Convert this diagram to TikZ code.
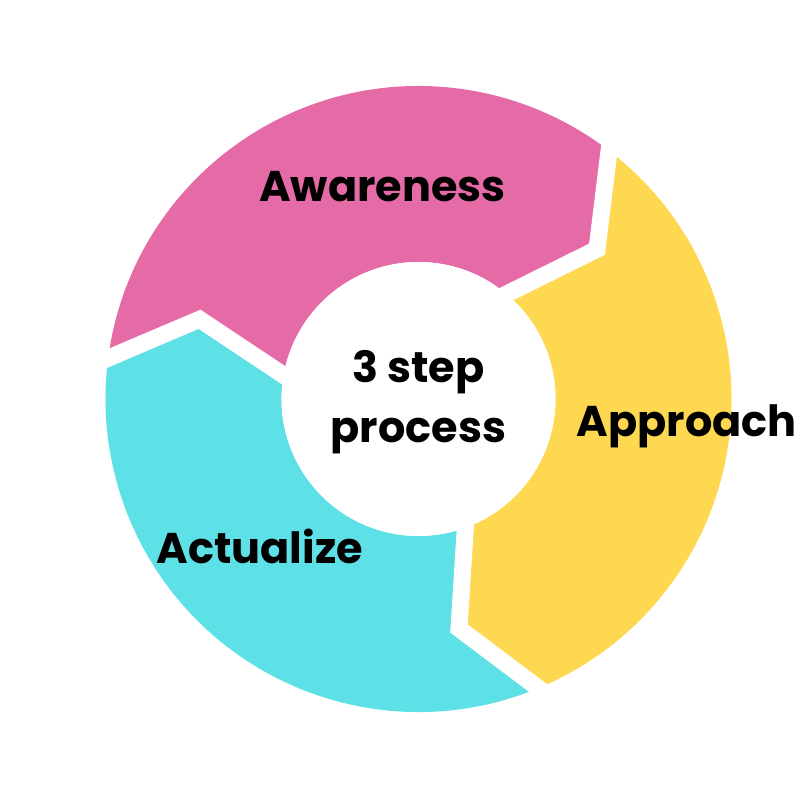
\documentclass[tikz,border=0pt]{standalone}
\usepackage{fontspec}
\setmainfont{Poppins}
\usetikzlibrary{calc}
\definecolor{segpink}{HTML}{E56BA7}
\definecolor{segyellow}{HTML}{FDD850}
\definecolor{segcyan}{HTML}{5DE1E6}
\tikzset{
  gapline/.style={draw=white, line width=17pt, line join=miter},
  label/.style={font=\fontsize{43}{50}\selectfont\bfseries, text=black, inner sep=0pt, anchor=base}
}
\begin{document}
\begin{tikzpicture}
\useasboundingbox[fill=white] (-418.5pt,-401pt) rectangle (381.5pt,399pt);
% segments
\fill[segpink] (172.5:313pt) arc[start angle=172.5, end angle=52.5, radius=313pt]
  -- (40:233pt) -- (50:137pt) arc[start angle=50, end angle=170, radius=137pt]
  -- (160:233pt) -- cycle;
\fill[segyellow] (52.5:313pt) arc[start angle=52.5, end angle=-67.5, radius=313pt]
  -- (-80:233pt) -- (-70:137pt) arc[start angle=-70, end angle=50, radius=137pt]
  -- (40:233pt) -- cycle;
\fill[segcyan] (292.5:313pt) arc[start angle=292.5, end angle=172.5, radius=313pt]
  -- (160:233pt) -- (170:137pt) arc[start angle=170, end angle=290, radius=137pt]
  -- (280:233pt) -- cycle;
% white gaps between segments
\foreach \k in {0,1,2} {
  \pgfmathsetmacro\ao{52.5+120*\k}
  \pgfmathsetmacro\at{40+120*\k}
  \pgfmathsetmacro\ai{50+120*\k}
  \coordinate (o\k) at (\ao:313pt);
  \coordinate (t\k) at (\at:233pt);
  \coordinate (i\k) at (\ai:137pt);
  \draw[gapline] ($(o\k)!-25pt!(t\k)$) -- (t\k) -- ($(i\k)!-25pt!(t\k)$);
}
% inner hole
\fill[white] (0,0) circle[radius=137pt];
% labels
\node[label] (aware) at (-36pt,197.3pt) {Awareness};
\node[label] (appr) at (268.2pt,-37.7pt) {Approach};
\node[label] (actu) at (-158.8pt,-164.3pt) {Actualize};
\node[label] (ctop) at (0pt,16pt) {3 step};
\node[label] (cbot) at (0pt,-44pt) {process};
\end{tikzpicture}
\end{document}
